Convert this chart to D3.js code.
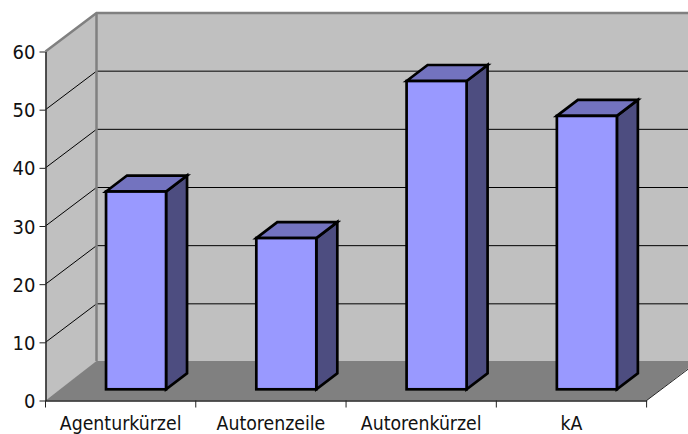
<!DOCTYPE html>
<html>
<head>
<meta charset="utf-8">
<script src="https://cdn.jsdelivr.net/npm/d3@7"></script>
<style>
html, body { margin: 0; padding: 0; background: #fff; }
svg { display: block; }
text { font-family: "DejaVu Sans"; font-stretch: condensed; fill: #111; }
</style>
</head>
<body>
<div id="chart"></div>
<script>
// data
var categories = ['Agenturkürzel', 'Autorenzeile', 'Autorenkürzel', 'kA'];
var values = [34, 26, 53, 47];
var yTicks = [0, 10, 20, 30, 40, 50, 60];

var width = 688, height = 434;

// front plane of the chart box
var plot = {left: 45.5, right: 646.6, top: 51.5, bottom: 400.5};
// depth of the box, and where the bars sit inside it
var depth = {x: 51, y: -38.5};
var barShift = {x: 15.4, y: -11.2};
var barDepth = {x: 21, y: -16};
var barWidth = 60;

var svg = d3.select('#chart').append('svg').attr('width', width).attr('height', height);

var x = d3.scaleBand().domain(categories).range([plot.left, plot.right]);
var y = d3.scaleLinear().domain([0, 60]).range([plot.bottom, plot.top]);

var poly = function (pts) { return pts.map(function (p) { return p.join(','); }).join(' '); };

// back wall, left wall, floor
svg.append('polygon')
    .attr('points', poly([[plot.left + depth.x, y(60) + depth.y], [width + 5, y(60) + depth.y], [width + 5, y(0) + depth.y], [plot.left + depth.x, y(0) + depth.y]]))
    .attr('fill', '#c0c0c0');
svg.append('polygon')
    .attr('points', poly([[plot.left, y(0)], [plot.left, y(60)], [plot.left + depth.x, y(60) + depth.y], [plot.left + depth.x, y(0) + depth.y]]))
    .attr('fill', '#c0c0c0');
svg.append('polygon')
    .attr('points', poly([[plot.left, y(0)], [plot.right, y(0)], [plot.right + depth.x, y(0) + depth.y - 1], [plot.left + depth.x, y(0) + depth.y - 1]]))
    .attr('fill', '#808080');

// gridlines on both walls
var gridTicks = yTicks.filter(function (d) { return d > 0 && d < 60; });
svg.append('g').selectAll('polyline').data(gridTicks).enter().append('polyline')
    .attr('points', function (d) {
        return poly([[plot.left, y(d)], [plot.left + depth.x, y(d) + depth.y], [width + 5, y(d) + depth.y]]);
    })
    .attr('fill', 'none')
    .attr('stroke', '#000')
    .attr('stroke-width', 1);

// wall edges
svg.append('polyline')
    .attr('points', poly([[plot.left, y(60)], [plot.left + depth.x, y(60) + depth.y], [width + 5, y(60) + depth.y]]))
    .attr('fill', 'none').attr('stroke', '#808080').attr('stroke-width', 2.5);
svg.append('line')
    .attr('x1', plot.left + depth.x).attr('x2', plot.left + depth.x)
    .attr('y1', y(60) + depth.y).attr('y2', y(0) + depth.y - 1)
    .attr('stroke', '#808080').attr('stroke-width', 2.5);

// right edge of the floor
svg.append('line')
    .attr('x1', plot.right).attr('y1', y(0))
    .attr('x2', plot.right + depth.x).attr('y2', y(0) + depth.y)
    .attr('stroke', '#222').attr('stroke-width', 1);

// bars
var bars = svg.append('g').selectAll('g').data(values).enter().append('g');
var barX = function (d, i) { return x(categories[i]) + x.bandwidth() / 2 - barWidth / 2 + barShift.x; };
var barY0 = y(0) + barShift.y;
var barH = function (d) { return y(0) - y(d); };

bars.append('polygon') // side
    .attr('points', function (d, i) {
        var l = barX(d, i) + barWidth, t = barY0 - barH(d);
        return poly([[l, t], [l + barDepth.x, t + barDepth.y], [l + barDepth.x, barY0 + barDepth.y], [l, barY0]]);
    })
    .attr('fill', '#4d4d80');
bars.append('polygon') // top
    .attr('points', function (d, i) {
        var l = barX(d, i), t = barY0 - barH(d);
        return poly([[l, t], [l + barDepth.x, t + barDepth.y], [l + barWidth + barDepth.x, t + barDepth.y], [l + barWidth, t]]);
    })
    .attr('fill', '#7373bf');
bars.append('rect') // front
    .attr('x', barX)
    .attr('y', function (d) { return barY0 - barH(d); })
    .attr('width', barWidth)
    .attr('height', barH)
    .attr('fill', '#9999ff');
bars.selectAll('polygon, rect')
    .attr('stroke', '#000')
    .attr('stroke-width', 2.7)
    .attr('stroke-linejoin', 'miter');

// axes
var yAxis = d3.axisLeft(y).tickValues(yTicks).tickSize(6).tickSizeOuter(0).tickPadding(4);
var gy = svg.append('g').attr('transform', 'translate(' + plot.left + ',0)').call(yAxis);
gy.selectAll('text').attr('font-size', 20).attr('dy', '0.35em').style('font-family', '"DejaVu Sans"');

var xAxis = d3.axisBottom(x).tickSize(0).tickSizeOuter(0).tickPadding(16);
var gx = svg.append('g').attr('transform', 'translate(0,' + plot.bottom + ')').call(xAxis);
gx.selectAll('text').attr('font-size', 19.3).style('font-family', '"DejaVu Sans"');

// x ticks sit between the categories
svg.append('g').selectAll('line').data(d3.range(categories.length + 1)).enter().append('line')
    .attr('x1', function (d) { return plot.left + d * x.bandwidth(); })
    .attr('x2', function (d) { return plot.left + d * x.bandwidth(); })
    .attr('y1', plot.bottom)
    .attr('y2', plot.bottom + 7)
    .attr('stroke', '#222');

svg.selectAll('.domain').attr('stroke', '#222').attr('stroke-width', 1.5);
svg.selectAll('.tick line').attr('stroke', '#222');
</script>
</body>
</html>
